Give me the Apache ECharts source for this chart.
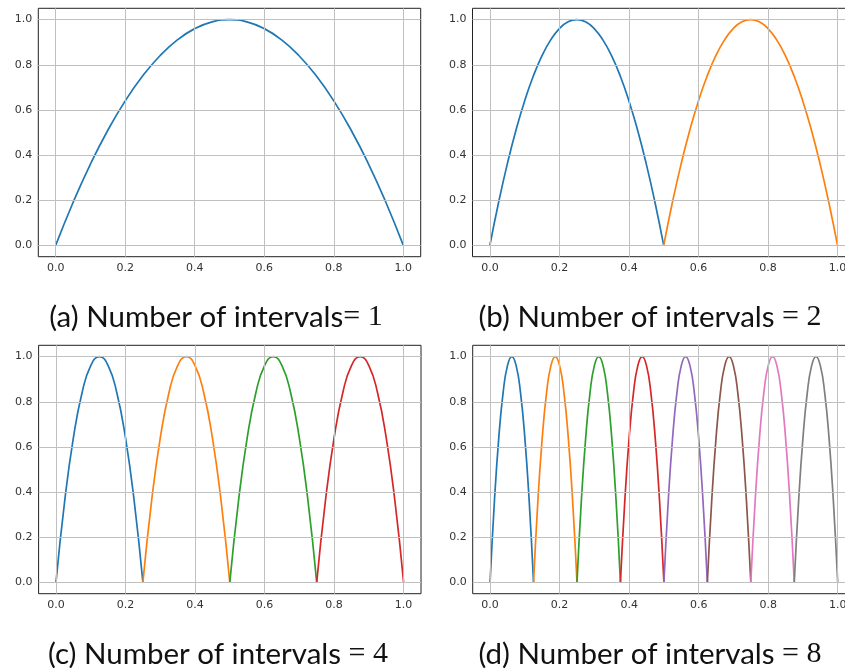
<!DOCTYPE html>
<html>
<head>
<meta charset="utf-8">
<script src="https://cdn.jsdelivr.net/npm/echarts@6/dist/echarts.min.js"></script>
<style>
html,body{margin:0;padding:0;background:#fff;}
#chart{width:845px;height:671px;}
</style>
</head>
<body>
<div id="chart"></div>
<script>
// ---- data ----
const xTicks = [0, 0.2, 0.4, 0.6, 0.8, 1.0];
const yTicks = [0, 0.2, 0.4, 0.6, 0.8, 1.0];
const colors = ['#1f77b4', '#ff7f0e', '#2ca02c', '#d62728', '#9467bd', '#8c564b', '#e377c2', '#7f7f7f'];

// interval boundaries per panel
const panelA_breaks = [0, 1];
const panelB_breaks = [0, 0.5, 1];
const panelC_breaks = [0, 0.25, 0.5, 0.75, 1];
const panelD_breaks = [0, 0.125, 0.25, 0.375, 0.5, 0.625, 0.75, 0.875, 1];

// y values read at evenly spaced points across each interval
const panelA_arcs = [
  [0, 0.19, 0.36, 0.51, 0.64, 0.75, 0.84, 0.91, 0.96, 0.99, 1.0, 0.99, 0.96, 0.91, 0.84, 0.75, 0.64, 0.51, 0.36, 0.19, 0]
];
const panelB_arcs = [
  [0, 0.19, 0.36, 0.51, 0.64, 0.75, 0.84, 0.91, 0.96, 0.99, 1.0, 0.99, 0.96, 0.91, 0.84, 0.75, 0.64, 0.51, 0.36, 0.19, 0],
  [0, 0.19, 0.36, 0.51, 0.64, 0.75, 0.84, 0.91, 0.96, 0.99, 1.0, 0.99, 0.96, 0.91, 0.84, 0.75, 0.64, 0.51, 0.36, 0.19, 0]
];
const panelC_arcs = [
  [0, 0.36, 0.64, 0.84, 0.96, 1.0, 0.96, 0.84, 0.64, 0.36, 0],
  [0, 0.36, 0.64, 0.84, 0.96, 1.0, 0.96, 0.84, 0.64, 0.36, 0],
  [0, 0.36, 0.64, 0.84, 0.96, 1.0, 0.96, 0.84, 0.64, 0.36, 0],
  [0, 0.36, 0.64, 0.84, 0.96, 1.0, 0.96, 0.84, 0.64, 0.36, 0]
];
const panelD_arcs = [
  [0, 0.36, 0.64, 0.84, 0.96, 1.0, 0.96, 0.84, 0.64, 0.36, 0],
  [0, 0.36, 0.64, 0.84, 0.96, 1.0, 0.96, 0.84, 0.64, 0.36, 0],
  [0, 0.36, 0.64, 0.84, 0.96, 1.0, 0.96, 0.84, 0.64, 0.36, 0],
  [0, 0.36, 0.64, 0.84, 0.96, 1.0, 0.96, 0.84, 0.64, 0.36, 0],
  [0, 0.36, 0.64, 0.84, 0.96, 1.0, 0.96, 0.84, 0.64, 0.36, 0],
  [0, 0.36, 0.64, 0.84, 0.96, 1.0, 0.96, 0.84, 0.64, 0.36, 0],
  [0, 0.36, 0.64, 0.84, 0.96, 1.0, 0.96, 0.84, 0.64, 0.36, 0],
  [0, 0.36, 0.64, 0.84, 0.96, 1.0, 0.96, 0.84, 0.64, 0.36, 0]
];

const captions = [
  {label: '(a) Number of intervals', eq: '= 1'},
  {label: '(b) Number of intervals ', eq: '= 2'},
  {label: '(c) Number of intervals ', eq: '= 4'},
  {label: '(d) Number of intervals ', eq: '= 8'}
];

// ---- layout ----
const panels = [
  {breaks: panelA_breaks, arcs: panelA_arcs, grid: {left: 38.3, top: 8.3, width: 382.4, height: 248.4}, cap: [216, 317]},
  {breaks: panelB_breaks, arcs: panelB_arcs, grid: {left: 472.5, top: 8.3, width: 382.4, height: 248.4}, cap: [650, 317]},
  {breaks: panelC_breaks, arcs: panelC_arcs, grid: {left: 38.6, top: 345.3, width: 382.4, height: 248.4}, cap: [218, 654]},
  {breaks: panelD_breaks, arcs: panelD_arcs, grid: {left: 472.7, top: 345.3, width: 382.4, height: 248.4}, cap: [650, 654]}
];

const grids = [], xAxes = [], yAxes = [], series = [], graphics = [];
const axisColor = '#222';
const labelStyle = {fontFamily: 'DejaVu Sans', fontSize: 11, color: '#333'};

panels.forEach((p, gi) => {
  grids.push(Object.assign({show: true, borderColor: axisColor, borderWidth: 1, backgroundColor: 'transparent', outerBoundsMode: 'none', containLabel: false}, p.grid));
  xAxes.push({
    type: 'value', gridIndex: gi, min: -0.05, max: 1.05,
    axisLine: {show: false},
    axisTick: {show: true, length: 3.5, inside: false, customValues: xTicks, lineStyle: {color: axisColor, width: 1}},
    axisLabel: {show: true, customValues: xTicks, margin: 6, formatter: v => v.toFixed(1), ...labelStyle},
    splitLine: {show: false}
  });
  yAxes.push({
    type: 'value', gridIndex: gi, min: -0.05, max: 1.05,
    axisLine: {show: false},
    axisTick: {show: true, length: 3.5, inside: false, customValues: yTicks, lineStyle: {color: axisColor, width: 1}},
    axisLabel: {show: true, customValues: yTicks, margin: 6, formatter: v => v.toFixed(1), ...labelStyle},
    splitLine: {show: false}
  });
  // grid lines via markLine on an empty helper series
  series.push({
    type: 'line', xAxisIndex: gi, yAxisIndex: gi, data: [], z: 1, silent: true,
    markLine: {
      silent: true, symbol: ['none', 'none'], label: {show: false},
      lineStyle: {color: '#c0c0c0', width: 1, type: 'solid'},
      animation: false,
      data: xTicks.map(v => ({xAxis: v})).concat(yTicks.map(v => ({yAxis: v})))
    }
  });
  p.arcs.forEach((ys, k) => {
    const a = p.breaks[k], b = p.breaks[k + 1];
    const n = ys.length;
    series.push({
      type: 'line', xAxisIndex: gi, yAxisIndex: gi, z: 3,
      data: ys.map((y, i) => [a + (b - a) * i / (n - 1), y]),
      showSymbol: false, smooth: true, animation: false,
      lineStyle: {color: colors[k], width: 1.7},
      itemStyle: {color: colors[k]}
    });
  });
  graphics.push({
    type: 'text', x: p.cap[0], y: p.cap[1],
    style: {
      text: '{s|' + captions[gi].label + '}{m|' + captions[gi].eq + '}',
      align: 'center', verticalAlign: 'middle',
      rich: {
        s: {fontFamily: 'Lato', fontSize: 29.5, fill: '#111', color: '#111'},
        m: {fontFamily: 'Liberation Serif', fontSize: 30, fill: '#111', color: '#111'}
      }
    }
  });
});

const chart = echarts.init(document.getElementById('chart'), null, {renderer: 'canvas'});
chart.setOption({
  backgroundColor: '#fff',
  animation: false,
  grid: grids, xAxis: xAxes, yAxis: yAxes, series: series, graphic: graphics
});
</script>
</body>
</html>
